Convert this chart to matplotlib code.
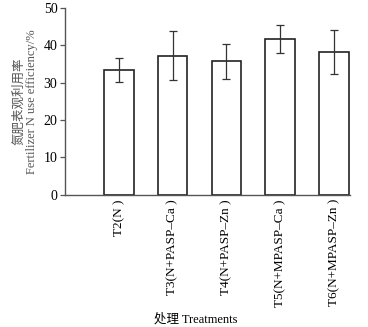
import numpy as np
import matplotlib
matplotlib.use("Agg")
import matplotlib.pyplot as plt

plt.rcParams['font.family'] = ['Liberation Serif', 'Noto Sans CJK SC']

treatments = ['T2(N )', 'T3(N+PASP–Ca )', 'T4(N+PASP–Zn )', 'T5(N+MPASP–Ca )', 'T6(N+MPASP–Zn )']
efficiency = [33.3, 37.2, 35.7, 41.7, 38.2]
errors = [3.2, 6.6, 4.6, 3.7, 5.9]

fig = plt.figure(figsize=(3.68, 3.27), dpi=100)
ax = fig.add_axes([0.177, 0.404, 0.774, 0.572])

x = np.arange(1, len(treatments) + 1)
ax.bar(x, efficiency, width=0.55, color='white', edgecolor='#222222', linewidth=1.2,
       yerr=errors, capsize=3.2, error_kw={'elinewidth': 0.9, 'capthick': 0.9, 'ecolor': '#333333'})

ax.set_xlim(0, 5.3)
ax.set_ylim(0, 50)
ax.set_yticks([0, 10, 20, 30, 40, 50])
ax.set_xticks(x)
ax.set_xticklabels(treatments, rotation=90, fontsize=9.5)
ax.tick_params(axis='x', length=0, pad=3)
ax.tick_params(axis='y', labelsize=10, length=3.5, width=0.9, color='#555555', pad=2)

for s in ['top', 'right']:
    ax.spines[s].set_visible(False)
for s in ['left', 'bottom']:
    ax.spines[s].set_color('#555555')
    ax.spines[s].set_linewidth(1.0)

ax.set_ylabel('氮肥表观利用率\nFertilizer N use efficiency/%', fontsize=9, color='#555555', linespacing=1.1)
ax.set_xlabel('处理 Treatments', fontsize=9)
ax.xaxis.set_label_coords(0.46, -0.63)

fig.savefig('out.png', dpi=100)
